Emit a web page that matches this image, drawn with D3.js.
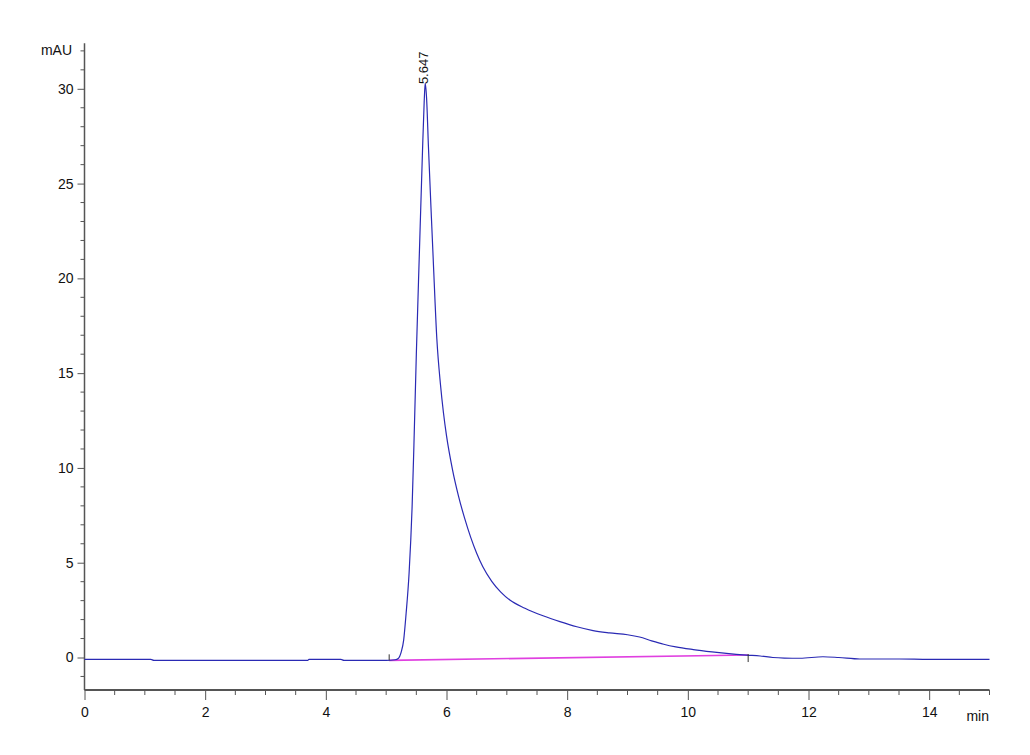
<!DOCTYPE html>
<html>
<head>
<meta charset="utf-8">
<script src="https://cdn.jsdelivr.net/npm/d3@7"></script>
<style>
  body { margin: 0; background: #fff; }
  svg text { font-family: "Liberation Sans", Arial, sans-serif; }
</style>
</head>
<body>
<svg id="chart" width="1030" height="755"></svg>
<script>
// ---- data ----
const timeMin = [0, 1.1, 1.15, 1.5, 2.5, 3.7, 3.72, 4.25, 4.3, 5.0, 5.15, 5.2, 5.25, 5.29, 5.33, 5.38, 5.43, 5.46, 5.5, 5.55, 5.6, 5.63, 5.647, 5.67, 5.7, 5.75, 5.78, 5.84, 5.9, 5.95, 6.0, 6.1, 6.2, 6.3, 6.4, 6.5, 6.6, 6.75, 6.9, 7.05, 7.3, 7.6, 7.88, 8.16, 8.43, 8.7, 9.0, 9.2, 9.4, 9.6, 9.8, 10.09, 10.4, 10.64, 10.97, 11.2, 11.41, 11.6, 11.86, 12.24, 12.5, 12.85, 13.5, 14, 15];
const signal = [-0.1, -0.1, -0.15, -0.15, -0.15, -0.15, -0.1, -0.1, -0.15, -0.15, -0.12, -0.05, 0.3, 0.92, 2.3, 4.46, 7.96, 11.2, 16, 21.3, 26.5, 29.3, 30.3, 29.5, 27, 23.2, 21, 16.8, 14.4, 12.9, 11.7, 9.9, 8.5, 7.35, 6.35, 5.5, 4.8, 4.02, 3.45, 3.03, 2.6, 2.2, 1.89, 1.62, 1.42, 1.3, 1.2, 1.08, 0.88, 0.7, 0.56, 0.42, 0.3, 0.22, 0.13, 0.08, 0.0, -0.03, -0.04, 0.04, 0.0, -0.08, -0.08, -0.1, -0.1];
const integrationBaseline = [{t: 5.05, v: -0.15}, {t: 11.0, v: 0.13}];
const peakLabel = {t: 5.647, v: 30.3, text: "5.647"};
const xTickValues = [0, 2, 4, 6, 8, 10, 12, 14];
const yTickValues = [0, 5, 10, 15, 20, 25, 30];
const xUnit = "min";
const yUnit = "mAU";

// ---- layout ----
const svg = d3.select("#chart");
const x = d3.scaleLinear().domain([0, 15]).range([84.5, 989.5]);
const y = d3.scaleLinear().domain([0, 30]).range([657.5, 88.8]);
const yBottom = -1.71, yTop = 32.4;
const axisColor = "#555";

// y axis
const yAxisG = svg.append("g").attr("transform", `translate(${x(0)},0)`);
yAxisG.append("line").attr("x1", 0).attr("x2", 0).attr("y1", y(yTop)).attr("y2", y(yBottom))
  .attr("stroke", axisColor).attr("stroke-width", 1.5);
const yMinor = d3.range(-1, 33, 1).filter(v => v % 5 !== 0);
yAxisG.selectAll(".ymin").data(yMinor).join("line")
  .attr("x1", -4).attr("x2", 0).attr("y1", d => y(d)).attr("y2", d => y(d))
  .attr("stroke", axisColor).attr("stroke-width", 1);
yAxisG.call(d3.axisLeft(y).tickValues(yTickValues).tickSize(7).tickPadding(4).tickFormat(d3.format("d")))
  .call(g => g.select(".domain").remove())
  .call(g => g.selectAll(".tick line").attr("stroke", axisColor).attr("stroke-width", 1))
  .call(g => g.selectAll(".tick text").attr("fill", "#111").style("font-size", "14px"));
svg.append("text").attr("x", 72).attr("y", 55).attr("text-anchor", "end")
  .style("font-size", "14px").attr("fill", "#111").text(yUnit);

// x axis
const xAxisY = 690;
const xAxisG = svg.append("g").attr("transform", `translate(0,${xAxisY})`);
xAxisG.append("line").attr("x1", x(0)).attr("x2", x(15)).attr("y1", 0).attr("y2", 0)
  .attr("stroke", axisColor).attr("stroke-width", 2);
const xMinor = d3.range(0, 15.01, 0.5).filter(v => v % 2 !== 0);
xAxisG.selectAll(".xmin").data(xMinor).join("line")
  .attr("x1", d => x(d)).attr("x2", d => x(d)).attr("y1", 0).attr("y2", 5)
  .attr("stroke", axisColor).attr("stroke-width", 1);
xAxisG.call(d3.axisBottom(x).tickValues(xTickValues).tickSize(10).tickPadding(7).tickFormat(d3.format("d")))
  .call(g => g.select(".domain").remove())
  .call(g => g.selectAll(".tick line").attr("stroke", axisColor).attr("stroke-width", 1))
  .call(g => g.selectAll(".tick text").attr("fill", "#111").style("font-size", "14px"));
svg.append("text").attr("x", 989).attr("y", 721).attr("text-anchor", "end")
  .style("font-size", "14px").attr("fill", "#111").text(xUnit);

// trace
const pts = timeMin.map((t, i) => ({t, v: signal[i]}));
const line = d3.line().x(d => x(d.t)).y(d => y(d.v)).curve(d3.curveMonotoneX);

// integration baseline
svg.append("path").datum(integrationBaseline)
  .attr("d", d3.line().x(d => x(d.t)).y(d => y(d.v)))
  .attr("fill", "none").attr("stroke", "#e040e0").attr("stroke-width", 1.6);

svg.append("path").datum(pts).attr("d", line)
  .attr("fill", "none").attr("stroke", "#2a2ab4").attr("stroke-width", 1.2);

// integration tick marks
svg.selectAll(".itick").data(integrationBaseline).join("line")
  .attr("x1", d => x(d.t)).attr("x2", d => x(d.t))
  .attr("y1", (d, i) => i === 0 ? y(d.v) - 6 : y(d.v) - 1)
  .attr("y2", (d, i) => i === 0 ? y(d.v) : y(d.v) + 7)
  .attr("stroke", "#333").attr("stroke-width", 1);

// peak label
svg.append("text")
  .attr("transform", `translate(${x(peakLabel.t) + 3},${y(peakLabel.v) + 1}) rotate(-90)`)
  .attr("text-anchor", "start").style("font-size", "13px").attr("fill", "#111")
  .text(peakLabel.text);
</script>
</body>
</html>
